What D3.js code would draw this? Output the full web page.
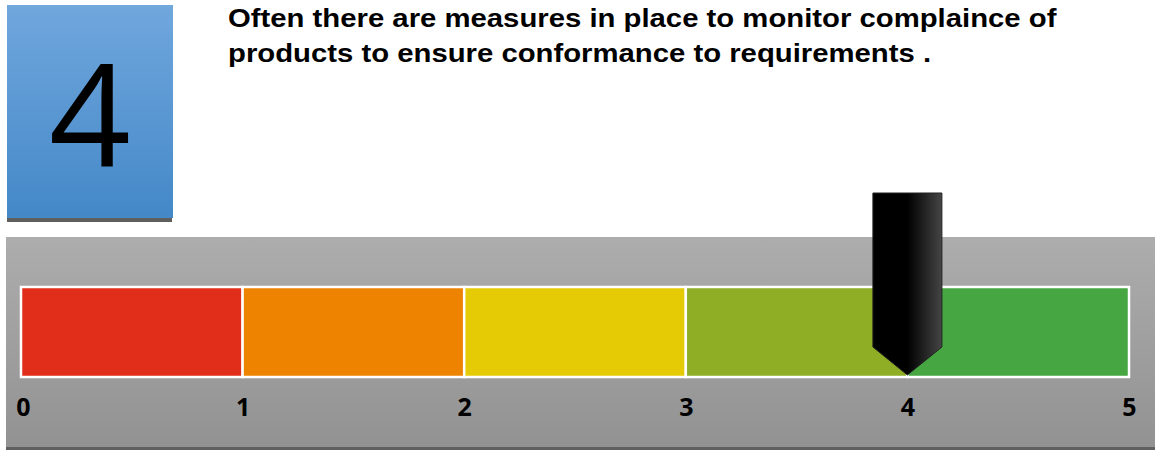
<!DOCTYPE html>
<html><head><meta charset="utf-8">
<script src="https://cdn.jsdelivr.net/npm/d3@7"></script>
<style>html,body{margin:0;padding:0;background:#fff;}svg{display:block;}</style>
</head><body>
<script>
const score = 4;
const titleLines = ["Often there are measures in place to monitor complaince of", "products to ensure conformance to requirements ."];
const bands = [0, 1, 2, 3, 4];
const bandColors = ["#e02e1a", "#ee8300", "#e5cb05", "#8fad25", "#45a642"];
const tickValues = [0, 1, 2, 3, 4, 5];

const W = 1155, H = 450;
const svg = d3.select("body").append("svg").attr("width", W).attr("height", H);
const defs = svg.append("defs");

const gBlue = defs.append("linearGradient").attr("id", "gBlue").attr("x1", 0).attr("y1", 0).attr("x2", 0).attr("y2", 1);
gBlue.append("stop").attr("offset", "0%").attr("stop-color", "#70a7dd");
gBlue.append("stop").attr("offset", "100%").attr("stop-color", "#4488c8");

const gGray = defs.append("linearGradient").attr("id", "gGray").attr("x1", 0).attr("y1", 0).attr("x2", 0).attr("y2", 1);
gGray.append("stop").attr("offset", "0%").attr("stop-color", "#adadad");
gGray.append("stop").attr("offset", "100%").attr("stop-color", "#929292");

const gPtr = defs.append("linearGradient").attr("id", "gPtr").attr("x1", 0).attr("y1", 0).attr("x2", 1).attr("y2", 0);
gPtr.append("stop").attr("offset", "0%").attr("stop-color", "#000");
gPtr.append("stop").attr("offset", "50%").attr("stop-color", "#000");
gPtr.append("stop").attr("offset", "100%").attr("stop-color", "#454545");

// blue score box
svg.append("rect").attr("x", 7).attr("y", 218).attr("width", 165).attr("height", 4).attr("fill", "#5f5f5f");
svg.append("rect").attr("x", 7).attr("y", 5).attr("width", 166).attr("height", 213).attr("fill", "url(#gBlue)");
svg.append("text").attr("x", 90).attr("y", 167).attr("text-anchor", "middle")
  .attr("font-family", "'Open Sans', sans-serif").attr("font-size", 143).attr("fill", "#000").text(score);

// title (glyphs are a bit wider than Liberation Sans in the reference)
svg.append("g").attr("transform", "translate(228,0) scale(1.127,1)")
  .selectAll("text").data(titleLines).join("text")
  .attr("x", 0).attr("y", (d, i) => 27 + i * 35)
  .attr("font-family", "'Liberation Sans', Arial, sans-serif").attr("font-weight", "bold")
  .attr("font-size", 26).attr("fill", "#000").text(d => d);

// gray panel
svg.append("rect").attr("x", 6).attr("y", 237).attr("width", W - 6).attr("height", 210).attr("fill", "url(#gGray)");
svg.append("rect").attr("x", 6).attr("y", 447).attr("width", W - 6).attr("height", 3).attr("fill", "#606060");

const x = d3.scaleLinear().domain([0, 5]).range([21, 1129]);
const barTop = 287, barH = 90;

svg.append("g").selectAll("rect").data(bands).join("rect")
  .attr("x", d => x(d)).attr("y", barTop).attr("width", d => x(d + 1) - x(d)).attr("height", barH)
  .attr("fill", (d, i) => bandColors[i]).attr("stroke", "#fff").attr("stroke-width", 2.5);

// axis labels
const axis = d3.axisBottom(x).tickValues(tickValues).tickSize(0).tickPadding(0).tickFormat(d3.format("d"));
const ax = svg.append("g").attr("transform", `translate(0,${barTop + barH})`).call(axis);
ax.select(".domain").remove();
ax.selectAll("text").attr("dy", null).attr("y", 39)
  .attr("font-family", "'Open Sans', sans-serif").attr("font-weight", "bold").attr("font-size", 25).attr("fill", "#000");
ax.selectAll(".tick").filter(d => d === 0).select("text").attr("dx", 2);

// pointer
const px = x(score), halfW = 34.5, pTop = 193, pShoulder = 347, pTip = 375;
svg.append("path")
  .attr("d", `M${px - halfW},${pTop} L${px + halfW},${pTop} L${px + halfW},${pShoulder} L${px},${pTip} L${px - halfW},${pShoulder} Z`)
  .attr("fill", "url(#gPtr)").attr("stroke", "#222").attr("stroke-width", 1);
</script>
</body></html>
